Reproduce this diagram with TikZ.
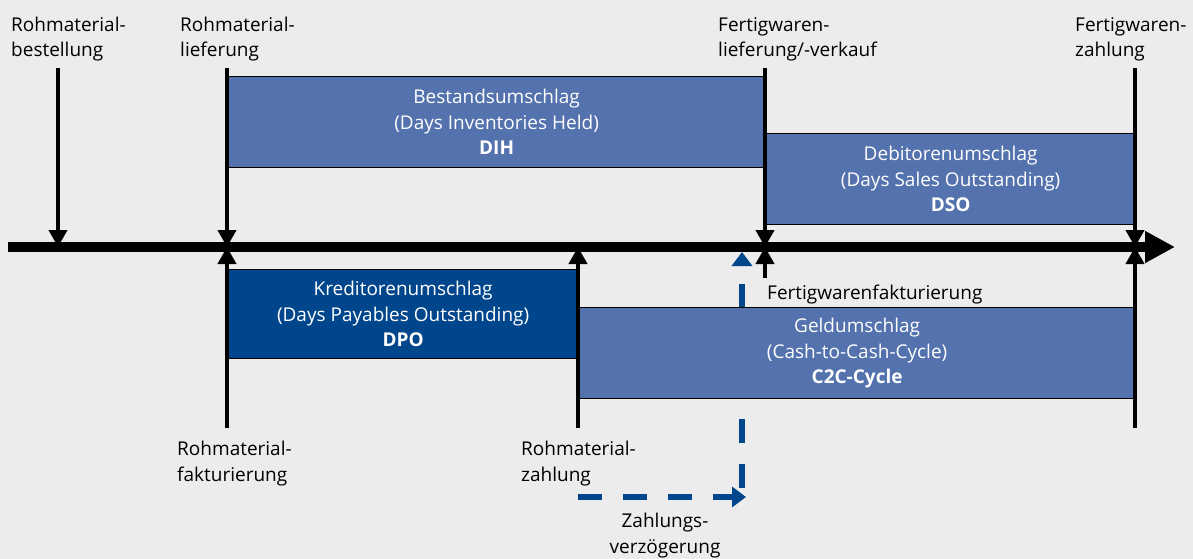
\documentclass[tikz,border=0pt]{standalone}
\usepackage{fontspec}
\setmainfont{Open Sans}
\usetikzlibrary{arrows.meta,positioning}
\definecolor{phaseblue}{HTML}{5472AE}
\definecolor{darkblue}{HTML}{00468C}
\definecolor{bggray}{HTML}{ECECEC}

\begin{document}
\begin{tikzpicture}[
    x=1pt, y=-1pt,
    font=\fontsize{19}{25.5}\selectfont,
    lbl/.style={anchor=base west, align=left, inner sep=0pt},
    phase/.style={rectangle, draw=black, line width=1.2pt, fill=phaseblue,
      text=white, align=center, anchor=north west, inner sep=0pt},
    phasedark/.style={phase, fill=darkblue},
    timeaxis/.style={line width=10pt, -{Triangle[length=30pt,width=30pt]}},
    evt/.style={line width=4pt, -{Triangle[length=17pt,width=18pt]}},
    delay/.style={draw=darkblue, line width=6pt, dash pattern=on 24pt off 21pt,
      -{Triangle[length=14pt,width=20pt]}}
  ]
    \useasboundingbox[fill=bggray] (0,0) rectangle (1193,559);

    % phases
    \node[phase, minimum width=538pt, minimum height=91pt] (dih) at (227,76)
      {Bestandsumschlag\\(Days Inventories Held)\\\textbf{DIH}};
    \node[phase, minimum width=370pt, minimum height=91pt] (dso) at (765,133)
      {Debitorenumschlag\\(Days Sales Outstanding)\\\textbf{DSO}};
    \node[phasedark, minimum width=351pt, minimum height=89pt] (dpo) at (227,269)
      {Kreditorenumschlag\\(Days Payables Outstanding)\\\textbf{DPO}};

    % payment delay (behind C2C)
    \coordinate (delayA) at (578,497);
    \coordinate (delayB) at (746,497);
    \coordinate (delayC) at (742,488);
    \coordinate (delayD) at (742,252);
    \draw[delay] (delayA) -- (delayB);
    \draw[delay] (delayC) -- (delayD);

    \node[phase, minimum width=557pt, minimum height=91pt] (c2c) at (578,307)
      {Geldumschlag\\(Cash-to-Cash-Cycle)\\\textbf{C2C-Cycle}};

    % time axis
    \coordinate (axStart) at (8,247);
    \coordinate (axEnd) at (1175,247);
    \draw[timeaxis] (axStart) -- (axEnd);

    % events
    \coordinate (bestTop) at (58,68);   \coordinate (bestAx) at (58,247);
    \coordinate (liefTop) at (227,68);  \coordinate (liefAx) at (227,247);
    \coordinate (faktBot) at (227,428);
    \coordinate (zahlBot) at (578,428); \coordinate (zahlAx) at (578,247);
    \coordinate (verkTop) at (765,68);  \coordinate (verkAx) at (765,247);
    \coordinate (fwfBot) at (765,278);
    \coordinate (fwzTop) at (1135,68);  \coordinate (fwzAx) at (1135,247);
    \coordinate (fwzBot) at (1135,428);

    \draw[evt] (bestTop) -- (bestAx);
    \draw[evt] (liefTop) -- (liefAx);
    \draw[evt] (faktBot) -- (liefAx);
    \draw[evt] (zahlBot) -- (zahlAx);
    \draw[evt] (verkTop) -- (verkAx);
    \draw[evt] (fwfBot) -- (verkAx);
    \draw[evt] (fwzTop) -- (fwzAx);
    \draw[evt] (fwzBot) -- (fwzAx);

    % labels (anchored at the baseline of the last line)
    \node[lbl] (lBest) at (11,57) {Rohmaterial-\\bestellung};
    \node[lbl] (lLief) at (180,57) {Rohmaterial-\\lieferung};
    \node[lbl] (lVerk) at (718,57) {Fertigwaren-\\lieferung/-verkauf};
    \node[lbl] (lFwz) at (1075,57) {Fertigwaren-\\zahlung};
    \node[lbl] (lFakt) at (177,481) {Rohmaterial-\\fakturierung};
    \node[lbl] (lZahl) at (521,481) {Rohmaterial-\\zahlung};
    \node[lbl] (lFwf) at (767,299) {Fertigwarenfakturierung};
    \node[anchor=base, align=center, inner sep=0pt] (lDelay) at (665,553)
      {Zahlungs-\\verzögerung};
\end{tikzpicture}
\end{document}
